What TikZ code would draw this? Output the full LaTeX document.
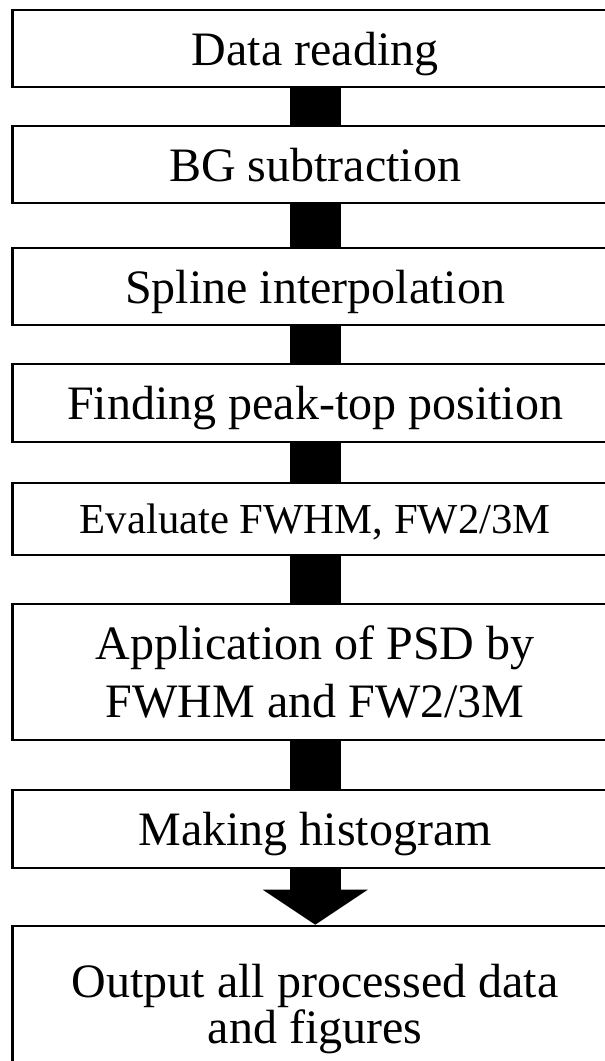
\documentclass[tikz,border=0pt]{standalone}
\usepackage{fontspec}
\setmainfont{Liberation Serif}
\usetikzlibrary{arrows.meta}
\begin{document}
\begin{tikzpicture}[x=1pt,y=-1pt,
  stage/.style={draw=black, line width=2.6pt, minimum width=605.5pt,
    inner sep=0pt, align=center, font=\fontsize{48}{58}\selectfont},
  oneline/.style={text height=33pt, text depth=0pt},
  link/.style={draw=black, line width=51pt},
  lastlink/.style={link, -{Triangle[width=105pt,length=35pt,line width=0pt]}},
]
\useasboundingbox (0,0) rectangle (605,1061);
\clip (0,0) rectangle (605,1061);
\fill[white] (0,0) rectangle (605,1061);

% processing stages, top to bottom
\node[stage, oneline, minimum height=77pt] (read)   at (315.25,48.5)  {Data reading};
\node[stage, oneline, minimum height=77pt] (bg)     at (315.25,164.5) {BG subtraction};
\node[stage, oneline, minimum height=77pt] (spline) at (315.25,286.5) {Spline interpolation};
\node[stage, oneline, minimum height=78pt] (peak)   at (315.25,403)   {Finding peak-top position};
\node[stage, minimum height=72pt, text height=29pt, text depth=0pt,
      font=\fontsize{42.7}{50}\selectfont]
                                  (fwhm)   at (315.25,519)   {Evaluate FWHM, FW2/3M};
\node[stage, minimum height=136pt] (psd)   at (315.25,672)   {Application of PSD by\\FWHM and FW2/3M};
\node[stage, oneline, minimum height=78pt] (hist)   at (315.25,829)   {Making histogram};
\node[stage, minimum height=166pt, font=\fontsize{48}{46}\selectfont]
                                  (out)    at (315.25,1009)  {Output all processed data\\and figures};

% thick connectors between the stages
\draw[link] (read.south)   -- (bg.north);
\draw[link] (bg.south)     -- (spline.north);
\draw[link] (spline.south) -- (peak.north);
\draw[link] (peak.south)   -- (fwhm.north);
\draw[link] (fwhm.south)   -- (psd.north);
\draw[link] (psd.south)    -- (hist.north);
\draw[lastlink] (hist.south) -- (out.north);
\end{tikzpicture}
\end{document}
